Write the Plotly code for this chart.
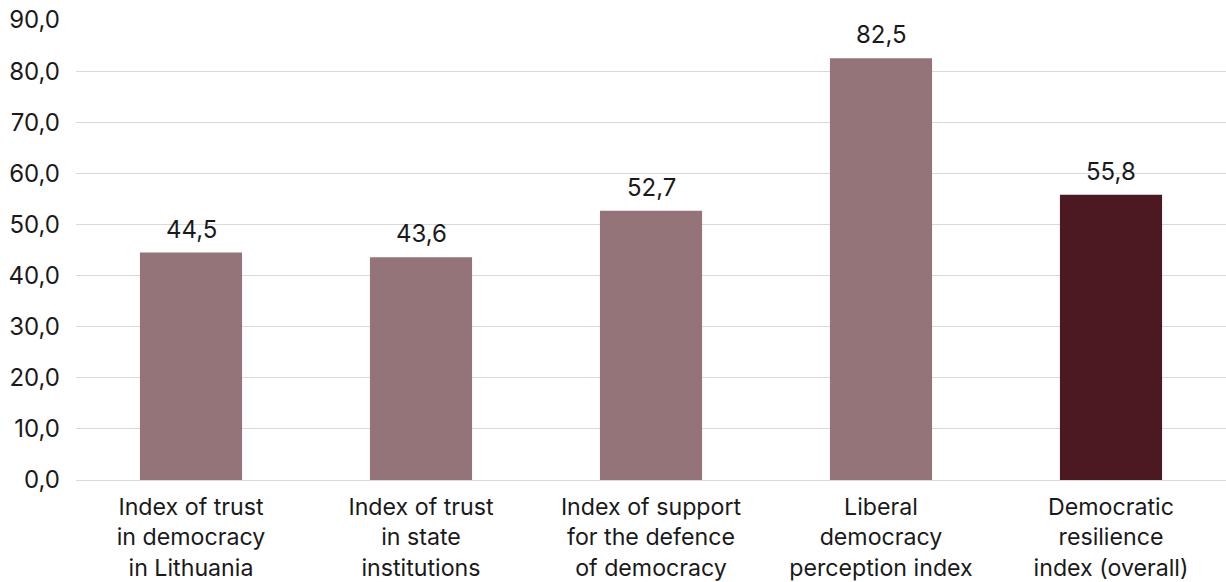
import plotly.graph_objects as go

categories = [
    "Index of trust<br>in democracy<br>in Lithuania",
    "Index of trust<br>in state<br>institutions",
    "Index of support<br>for the defence<br>of democracy",
    "Liberal<br>democracy<br>perception index",
    "Democratic<br>resilience<br>index (overall)",
]
values = [44.5, 43.6, 52.7, 82.5, 55.8]
bar_colors = ["#947478", "#947478", "#947478", "#947478", "#4C1922"]
y_ticks = [0, 10, 20, 30, 40, 50, 60, 70, 80, 90]


def comma(v):
    return f"{v:.1f}".replace(".", ",")


FONT = "Inter"
SIZE = 24
TEXT = "#1a1a1a"

fig = go.Figure(
    go.Bar(
        x=categories,
        y=values,
        marker=dict(color=bar_colors, line=dict(width=0)),
        width=0.444,
        hoverinfo="skip",
    )
)

for c, v in zip(categories, values):
    fig.add_annotation(
        x=c, y=v, text=comma(v), showarrow=False,
        yanchor="bottom", yshift=7,
        font=dict(family=FONT, size=SIZE, color=TEXT),
    )

fig.update_layout(
    width=1226, height=582,
    margin=dict(l=76, r=0, t=20, b=102, autoexpand=False),
    paper_bgcolor="white", plot_bgcolor="white",
    font=dict(family=FONT, size=SIZE, color=TEXT),
    showlegend=False,
    bargap=0.556,
)
fig.update_xaxes(
    showgrid=False, showline=False, ticks="", automargin=False,
    ticklabelstandoff=11,
    tickfont=dict(family=FONT, size=23.2, color=TEXT),
)
fig.update_yaxes(
    range=[0, 90], automargin=False,
    tickvals=y_ticks,
    ticktext=[comma(t) for t in y_ticks],
    showgrid=True, gridcolor="#d9d9d9", gridwidth=1,
    zeroline=True, zerolinecolor="#d9d9d9", zerolinewidth=1,
    showline=False, ticks="",
    ticklabelstandoff=15,
    tickfont=dict(family=FONT, size=SIZE, color=TEXT),
)

fig.write_html("out.html")
